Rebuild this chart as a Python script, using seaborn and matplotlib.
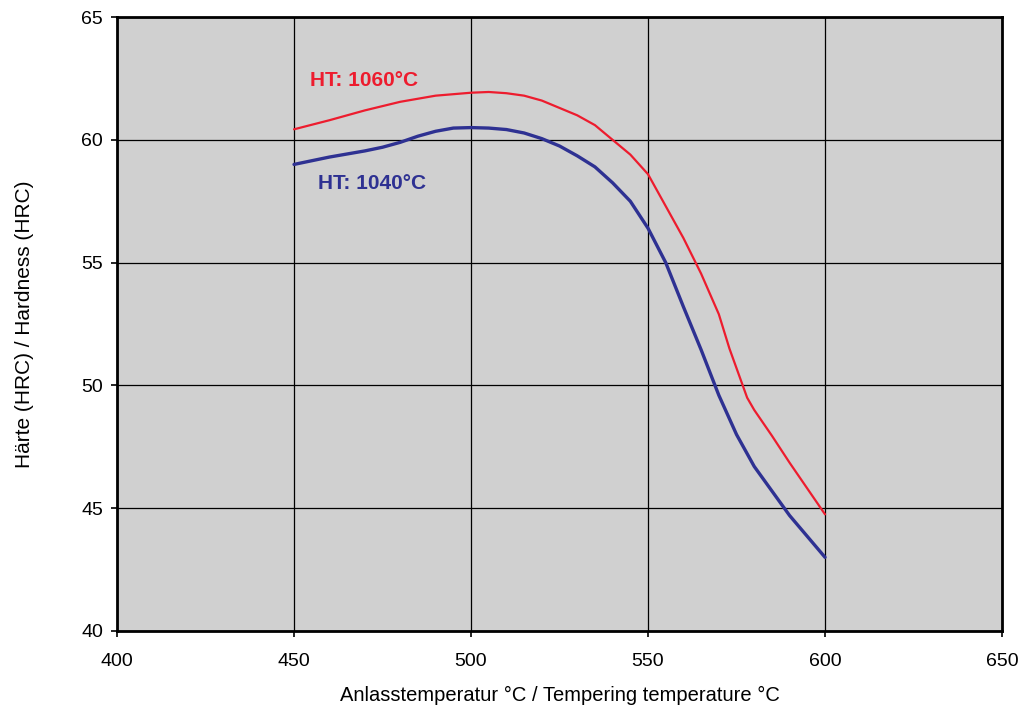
import numpy as np
import pandas as pd
import matplotlib
matplotlib.use("Agg")
import matplotlib.pyplot as plt
import seaborn as sns

# Tempering temperature (°C) and hardness (HRC)
temp_1060 = [450, 460, 470, 480, 490, 500, 505, 510, 515, 520, 525, 530, 535, 540,
             545, 550, 555, 560, 565, 570, 573, 576, 578, 580, 585, 590, 595, 600]
hrc_1060 = [60.43, 60.8, 61.2, 61.55, 61.8, 61.92, 61.95, 61.9, 61.8, 61.6, 61.3, 61.0, 60.6, 60.0,
            59.4, 58.6, 57.3, 56.0, 54.55, 52.9, 51.5, 50.3, 49.5, 49.0, 47.95, 46.85, 45.8, 44.75]

temp_1040 = [450, 460, 470, 475, 480, 485, 490, 495, 500, 505, 510, 515, 520, 525, 530,
             535, 540, 545, 550, 555, 560, 565, 570, 575, 580, 585, 590, 595, 600]
hrc_1040 = [59.0, 59.3, 59.55, 59.7, 59.9, 60.15, 60.35, 60.48, 60.5, 60.48, 60.42, 60.28, 60.05, 59.75, 59.35,
            58.9, 58.25, 57.5, 56.4, 55.0, 53.2, 51.45, 49.6, 48.0, 46.7, 45.7, 44.7, 43.85, 43.0]

red = "#ED1C2E"
blue = "#2E3192"

sns.set_style("white")
plt.rcParams["font.family"] = ["Liberation Sans", "DejaVu Sans"]

fig = plt.figure(figsize=(10.23, 7.12), dpi=100)
ax = fig.add_axes([0.1144, 0.1138, 0.8651, 0.8622])
ax.set_facecolor("#D0D0D0")

sns.lineplot(x=temp_1060, y=hrc_1060, ax=ax, color=red, linewidth=1.6)
sns.lineplot(x=temp_1040, y=hrc_1040, ax=ax, color=blue, linewidth=2.4)

ax.set_xlim(400, 650)
ax.set_ylim(40, 65)
ax.set_xticks(range(400, 651, 50))
ax.set_yticks(range(40, 66, 5))
ax.grid(True, color="black", linewidth=0.9)
ax.set_axisbelow(True)
for s in ax.spines.values():
    s.set_color("black")
    s.set_linewidth(2)
ax.tick_params(axis="both", direction="out", length=4, width=1.2, labelsize=14,
               color="black", labelcolor="black", bottom=True, left=True)
ax.tick_params(axis="y", pad=6)
ax.tick_params(axis="x", pad=12)

ax.text(454.5, 62.43, "HT: 1060°C", color=red, fontsize=15, fontweight="bold", va="center", ha="left")
ax.text(456.8, 58.24, "HT: 1040°C", color=blue, fontsize=15, fontweight="bold", va="center", ha="left")

ax.set_xlabel("Anlasstemperatur °C / Tempering temperature °C", fontsize=14.5, labelpad=11, color="black")
ax.set_ylabel("Härte (HRC) / Hardness (HRC)", fontsize=15, labelpad=34, color="black")

fig.savefig("out.png", dpi=100)
